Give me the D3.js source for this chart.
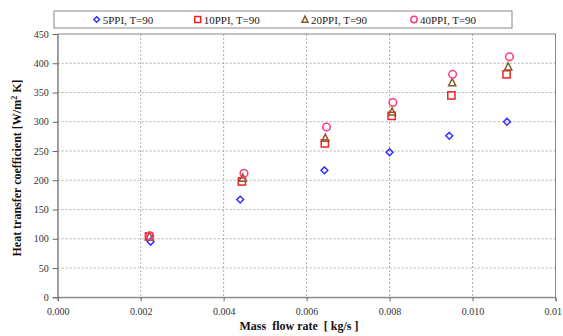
<!DOCTYPE html>
<html>
<head>
<meta charset="utf-8">
<style>
body { margin:0; background:#fff; }
text { font-family:"Liberation Serif", "Times New Roman", serif; }
</style>
</head>
<body>
<div id="chart"></div>
<script src="https://d3js.org/d3.v7.min.js"></script>
<script>

var W = 563, H = 336;

// data
var seriesNames = ["5PPI, T=90", "10PPI, T=90", "20PPI, T=90", "40PPI, T=90"];
var flow5  = [0.00224, 0.00440, 0.00643, 0.00800, 0.00944, 0.01083];
var htc5   = [95, 167, 217, 248, 276, 300];
var flow10 = [0.00220, 0.00444, 0.00644, 0.00805, 0.00949, 0.01082];
var htc10  = [104, 198, 263, 310, 345, 381];
var flow20 = [0.00221, 0.00446, 0.00645, 0.00806, 0.00951, 0.01086];
var htc20  = [104, 204, 272, 317, 367, 394];
var flow40 = [0.00222, 0.00449, 0.00648, 0.00808, 0.00952, 0.01089];
var htc40  = [105, 212, 291, 333, 381, 411];

var xTicks = [0, 0.002, 0.004, 0.006, 0.008, 0.010, 0.012];
var xTickLabels = ["0.000", "0.002", "0.004", "0.006", "0.008", "0.010", "0.01"];
var yTicks = [0, 50, 100, 150, 200, 250, 300, 350, 400, 450];

var colors = ["#3030ff", "#ee2222", "#8a5a2b", "#ff3d7f"];
var shapes = ["diamond", "square", "triangle", "circle"];

var series = [
  {x: flow5,  y: htc5},
  {x: flow10, y: htc10},
  {x: flow20, y: htc20},
  {x: flow40, y: htc40}
];

var plotL = 57.7, plotR = 555.5, plotT = 34, plotB = 297.3;

var x = d3.scaleLinear().domain([0, 0.012]).range([plotL, plotR]);
var y = d3.scaleLinear().domain([0, 450]).range([plotB, plotT]);

var svg = d3.select("#chart").append("svg")
   .attr("width", W)
   .attr("height", H);

// grid lines
svg.append("g").selectAll("line").data(xTicks.slice(1, -1)).enter().append("line")
   .attr("x1", function(d){ return x(d); })
   .attr("x2", function(d){ return x(d); })
   .attr("y1", plotT).attr("y2", plotB)
   .style("stroke", "#999").style("stroke-width", 0.8)
   .style("stroke-dasharray", "2,2");
svg.append("g").selectAll("line").data(yTicks.slice(1, -1)).enter().append("line")
   .attr("x1", plotL).attr("x2", plotR)
   .attr("y1", function(d){ return y(d); })
   .attr("y2", function(d){ return y(d); })
   .style("stroke", "#999").style("stroke-width", 0.8)
   .style("stroke-dasharray", "2,2");

// plot border
svg.append("rect")
   .attr("x", plotL).attr("y", plotT)
   .attr("width", plotR - plotL).attr("height", plotB - plotT)
   .style("fill", "none").style("stroke", "#888").style("stroke-width", 1);

// axes
var yAxis = d3.axisLeft(y).tickValues(yTicks).tickSize(5).tickPadding(4);
var gy = svg.append("g").attr("transform", "translate(" + plotL + ",0)").call(yAxis);
var xAxis = d3.axisBottom(x).tickValues(xTicks).tickSize(4).tickPadding(7)
   .tickFormat(function(d, i){ return xTickLabels[i]; });
var gx = svg.append("g").attr("transform", "translate(0," + plotB + ")").call(xAxis);

[gx, gy].forEach(function(g){
  g.select(".domain").style("stroke", "#888");
  g.selectAll(".tick line").style("stroke", "#666");
  g.selectAll(".tick text")
   .style("font-family", "Liberation Serif, serif")
   .style("font-size", "10px")
   .style("fill", "#333");
});
// last x label sits at the page edge
gx.selectAll(".tick text").filter(function(d, i){ return i === xTicks.length - 1; })
   .attr("x", 6).style("text-anchor", "end");

// axis titles
svg.append("text")
   .text("Mass  flow rate  [ kg/s ]")
   .attr("x", 299).attr("y", 330)
   .style("text-anchor", "middle")
   .style("font-size", "12px").style("font-weight", "bold")
   .style("white-space", "pre")
   .style("fill", "#111");

var yt = svg.append("text")
   .attr("transform", "translate(21,168) rotate(-90)")
   .style("text-anchor", "middle")
   .style("font-size", "12px").style("font-weight", "bold")
   .style("fill", "#111");
yt.append("tspan").text("Heat transfer coefficient [W/m");
yt.append("tspan").text("2").attr("dy", -4).style("font-size", "8px");
yt.append("tspan").text(" K]").attr("dy", 4);

// marker drawing
function marker(g, shape, color, size) {
  if (shape === "circle") {
    g.append("circle").attr("r", size * 0.95)
     .style("fill", "none").style("stroke", color).style("stroke-width", 1.5);
  } else if (shape === "diamond") {
    var s = size * 0.85;
    g.append("path").attr("d", "M0," + (-s) + "L" + s + ",0L0," + s + "L" + (-s) + ",0Z")
     .style("fill", "none").style("stroke", color).style("stroke-width", 1.5);
  } else if (shape === "square") {
    g.append("rect").attr("x", -size * 0.9).attr("y", -size * 0.9)
     .attr("width", size * 1.8).attr("height", size * 1.8)
     .style("fill", "none").style("stroke", color).style("stroke-width", 1.5);
  } else {
    var t = size;
    g.append("path").attr("d", "M0," + (-t) + "L" + (t * 0.9) + "," + (t * 0.8) + "L" + (-t * 0.9) + "," + (t * 0.8) + "Z")
     .style("fill", "none").style("stroke", color).style("stroke-width", 1.5);
  }
}

// points
series.forEach(function(s, si){
  var g = svg.append("g");
  s.x.forEach(function(v, i){
    var p = g.append("g")
      .attr("transform", "translate(" + x(v) + "," + y(s.y[i]) + ")");
    marker(p, shapes[si], colors[si], 4);
  });
});

// legend
svg.append("rect")
   .attr("x", 54).attr("y", 11).attr("width", 458).attr("height", 17)
   .style("fill", "#fff").style("stroke", "#888").style("stroke-width", 1);
var legX = [96.7, 197.7, 305, 414];
seriesNames.forEach(function(name, i){
  var p = svg.append("g").attr("transform", "translate(" + legX[i] + ",19.5)");
  marker(p, shapes[i], colors[i], 3.3);
  svg.append("text").text(name)
     .attr("x", legX[i] + 6).attr("y", 23.5)
     .style("font-size", "11px").style("fill", "#222");
});

</script>
</body>
</html>
